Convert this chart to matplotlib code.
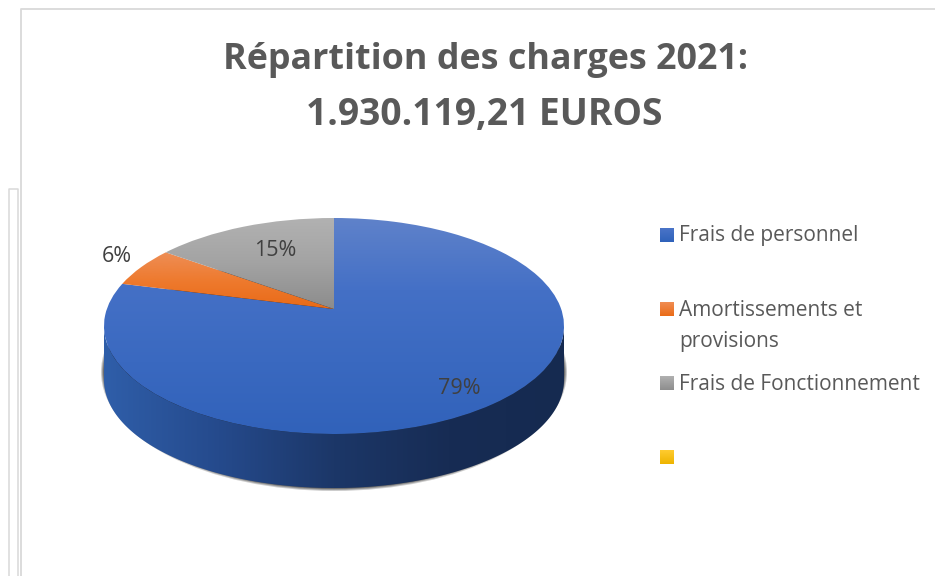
import numpy as np
import matplotlib
matplotlib.use("Agg")
import matplotlib.pyplot as plt
from matplotlib.colors import LinearSegmentedColormap
from matplotlib.patches import Ellipse, Polygon
from matplotlib.transforms import Transform

# data
title_lines = ["Répartition des charges 2021:", "1.930.119,21 EUROS"]
categories = ["Frais de personnel", "Amortissements et\nprovisions", "Frais de Fonctionnement", ""]
values = [79, 6, 15]
labels = ["79%", "6%", "15%"]

# gradient of each slice, top to bottom
slice_cols = [["#5f82ca", "#4470c6", "#3a69c0", "#3162ba"],
              ["#ee8e56", "#ee7a2e", "#e96a17"],
              ["#b2b2b2", "#a3a3a3", "#8c8c8c"]]
key_cols = [["#4a74c8", "#2f62ba"], ["#f08c52", "#ea6c18"], ["#b0b0b0", "#8e8e8e"], ["#ffcb30", "#eeb400"]]
side_cols = ["#2f5ea9", "#254a8c", "#1c3768", "#172c54", "#152a50"]

W, H = 935, 576
cx, cy, rx, ry = 334, 326, 230, 108
depth = 54
tilt = 0.157  # pie centre sits above the ellipse centre (perspective)


class Tilt(Transform):
 input_dims = 2
 output_dims = 2

 def transform_non_affine(self, xy):
  xy = np.asarray(xy)
  d = 1 + tilt * xy[:, 1]
  return np.column_stack([np.sqrt(1 - tilt**2) * xy[:, 0] / d, (xy[:, 1] + tilt) / d])


fig = plt.figure(figsize=(W / 100, H / 100), dpi=100, facecolor="white")

# pixel axes underneath: frames, shadow and pie side
bg = fig.add_axes([0, 0, 1, 1], zorder=0)
bg.set_xlim(0, W)
bg.set_ylim(H, 0)
bg.axis("off")

frame = "#d9d9d9"
bg.plot([20.5, 20.5, W], [H, 8.5, 8.5], color=frame, lw=1.3)
bg.plot([8.5, 8.5, 18, 18], [H, 188.5, 188.5, H], color=frame, lw=1.1)

# shadow
for i in range(6):
 bg.add_patch(Ellipse((cx, cy + depth - 8), 2 * (rx + 3 - i), 2 * (ry + 11 - i),
                      color="black", alpha=0.2 + 0.04 * i, lw=0, zorder=1))

# side wall
t = np.linspace(np.pi, 2 * np.pi, 200)
low_x = cx + rx * np.cos(t)
low_y = cy - ry * np.sin(t)
side = Polygon(np.column_stack([np.r_[low_x, low_x[::-1]], np.r_[low_y + depth, low_y[::-1]]]),
               closed=True, fc="none", ec="none", zorder=2)
bg.add_patch(side)
side_map = LinearSegmentedColormap.from_list("side", side_cols)
im = bg.imshow(np.linspace(0, 1, 256).reshape(1, -1), cmap=side_map, aspect="auto",
               extent=(cx - rx, cx + rx, cy + ry + depth, cy), zorder=3)
im.set_clip_path(side)
bg.set_xlim(0, W)
bg.set_ylim(H, 0)

# top face
ax = fig.add_axes([(cx - rx) / W, 1 - (cy + ry) / H, 2 * rx / W, 2 * ry / H], zorder=1)
wedges, _ = ax.pie(values, startangle=90, counterclock=False, radius=1)
for w, cols in zip(wedges, slice_cols):
 tr = Tilt()
 w.set_transform(tr + ax.transData)
 w.set_facecolor("none")
 w.set_edgecolor("none")
 box = tr.transform_path(w.get_path()).get_extents()
 cmap = LinearSegmentedColormap.from_list("g", cols)
 g = ax.imshow(np.linspace(0, 1, 256).reshape(-1, 1), cmap=cmap, aspect="auto",
               extent=(-1, 1, box.y0, box.y1))
 g.set_clip_path(w)
ax.set_aspect("auto")
ax.set_xlim(-1, 1)
ax.set_ylim(-1, 1)
ax.axis("off")

# overlay for text
top = fig.add_axes([0, 0, 1, 1], zorder=2)
top.set_xlim(0, W)
top.set_ylim(H, 0)
top.axis("off")
top.patch.set_alpha(0)

font = "Open Sans"
txt = "#595959"
top.text(485.5, 60, title_lines[0], ha="center", va="center", family=font, weight="bold",
         fontsize=25.8, color=txt)
top.text(484.5, 115, title_lines[1], ha="center", va="center", family=font, weight="bold",
         fontsize=26.8, color=txt)

label_pos = [(459, 389), (117, 257), (275, 251)]
for s, (x, y) in zip(labels, label_pos):
 top.text(x, y, s, ha="center", va="center", family=font, fontsize=15.5, color="#404040")

# legend
legend_y = [235, 309, 383, 457]
text_y = [236, 311, 385, 457]
for name, y, ty, cols in zip(categories, legend_y, text_y, key_cols):
 cmap = LinearSegmentedColormap.from_list("g", cols)
 top.imshow(np.linspace(0, 1, 32).reshape(-1, 1), cmap=cmap, aspect="auto",
            extent=(660, 674, y + 7, y - 7))
 if "\n" in name:
  a, b = name.split("\n")
  top.text(679, ty, a, va="center", family=font, fontsize=15, color=txt)
  top.text(679, ty + 30, b, va="center", family=font, fontsize=15, color=txt)
 else:
  top.text(679, ty, name, va="center", family=font, fontsize=15, color=txt)
top.set_xlim(0, W)
top.set_ylim(H, 0)

fig.savefig("out.png", dpi=100)
